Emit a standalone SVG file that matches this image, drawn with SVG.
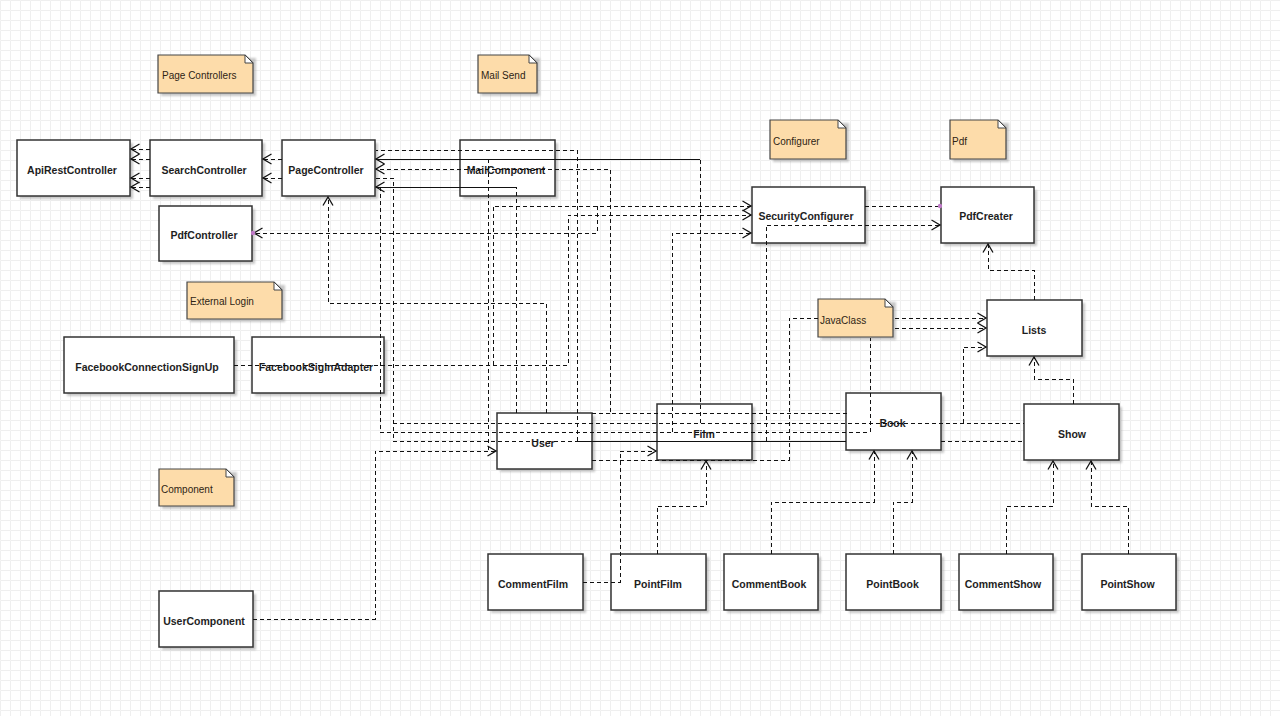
<svg xmlns="http://www.w3.org/2000/svg" width="1280" height="716" viewBox="0 0 1280 716">
<defs>
<pattern id="grid" width="10" height="10" patternUnits="userSpaceOnUse"><path d="M10 0.5H0.5V10" fill="none" stroke="#efefef" stroke-width="1"/></pattern>
<filter id="sh" x="-10%" y="-10%" width="130%" height="130%"><feGaussianBlur stdDeviation="1.2"/></filter>
<marker id="arr" markerUnits="userSpaceOnUse" markerWidth="12" markerHeight="12" refX="9.5" refY="6" orient="auto"><path d="M1,1 L9.5,6 L1,11" fill="none" stroke="#111" stroke-width="1.3"/></marker>
<style>
.bx{fill:#fff;stroke:#333;stroke-width:1.5}
.sd{fill:#9a9a9a;opacity:.55;filter:url(#sh)}
.nt{fill:#fddcaa;stroke:#454545;stroke-width:1.2}
.ear{fill:#fff;stroke:#454545;stroke-width:1}
.lb{font-family:"Liberation Sans",Arial,sans-serif;font-weight:bold;font-size:10.5px;fill:#1e1e1e;text-anchor:middle}
.nl{font-family:"Liberation Sans",Arial,sans-serif;font-size:10px;fill:#2e2414}
.c{fill:none;stroke:#111;stroke-width:1;stroke-dasharray:4 3;shape-rendering:crispEdges}
.s{fill:none;stroke:#111;stroke-width:1;shape-rendering:crispEdges}
.a{marker-end:url(#arr)}
.dot{fill:#c07ac8}
</style>
</defs>
<rect width="1280" height="716" fill="#fff"/>
<rect width="1280" height="716" fill="url(#grid)"/>

<g id="note-page-controllers"><path class="sd" d="M161,58h95v38h-95z"/><path class="nt" d="M158,55H245L253,63V93H158Z"/><path class="ear" d="M245,55V63H253Z"/><text class="nl" x="162" y="78.5">Page Controllers</text></g>
<g id="note-mail-send"><path class="sd" d="M481,58h59v38h-59z"/><path class="nt" d="M478,55H529L537,63V93H478Z"/><path class="ear" d="M529,55V63H537Z"/><text class="nl" x="481" y="78.5">Mail Send</text></g>
<g id="note-configurer"><path class="sd" d="M773,123h76v39h-76z"/><path class="nt" d="M770,120H838L846,128V159H770Z"/><path class="ear" d="M838,120V128H846Z"/><text class="nl" x="773" y="145">Configurer</text></g>
<g id="note-pdf"><path class="sd" d="M953,123h56v39h-56z"/><path class="nt" d="M950,120H998L1006,128V159H950Z"/><path class="ear" d="M998,120V128H1006Z"/><text class="nl" x="952" y="145">Pdf</text></g>
<g id="note-external-login"><path class="sd" d="M190,285h95v37h-95z"/><path class="nt" d="M187,282H274L282,290V319H187Z"/><path class="ear" d="M274,282V290H282Z"/><text class="nl" x="190" y="304.5">External Login</text></g>
<g id="note-javaclass"><path class="sd" d="M821,302h75v38h-75z"/><path class="nt" d="M818,299H885L893,307V337H818Z"/><path class="ear" d="M885,299V307H893Z"/><text class="nl" x="820" y="323.5">JavaClass</text></g>
<g id="note-component"><path class="sd" d="M162,472h75v37h-75z"/><path class="nt" d="M159,469H226L234,477V506H159Z"/><path class="ear" d="M226,469V477H234Z"/><text class="nl" x="161" y="492.5">Component</text></g>

<g id="ApiRestController"><rect class="sd" x="20" y="143" width="113" height="56"/><rect class="bx" x="17" y="140" width="113" height="56"/><text class="lb" x="72" y="173.5">ApiRestController</text></g>
<g id="SearchController"><rect class="sd" x="153" y="143" width="112" height="56"/><rect class="bx" x="150" y="140" width="112" height="56"/><text class="lb" x="204" y="173.5">SearchController</text></g>
<g id="PageController"><rect class="sd" x="285" y="143" width="93" height="56"/><rect class="bx" x="282" y="140" width="93" height="56"/><text class="lb" x="326" y="173.5">PageController</text></g>
<g id="MailComponent"><rect class="sd" x="463" y="143" width="95" height="56"/><rect class="bx" x="460" y="140" width="95" height="56"/><text class="lb" x="506" y="173.5">MailComponent</text></g>
<g id="PdfController"><rect class="sd" x="162" y="209" width="93" height="55"/><rect class="bx" x="159" y="206" width="93" height="55"/><text class="lb" x="204" y="239">PdfController</text></g>
<g id="SecurityConfigurer"><rect class="sd" x="755" y="190" width="113" height="56"/><rect class="bx" x="752" y="187" width="113" height="56"/><text class="lb" x="806" y="220">SecurityConfigurer</text></g>
<g id="PdfCreater"><rect class="sd" x="944" y="190" width="93" height="56"/><rect class="bx" x="941" y="187" width="93" height="56"/><text class="lb" x="986" y="220">PdfCreater</text></g>
<g id="FacebookConnectionSignUp"><rect class="sd" x="67" y="340" width="170" height="56"/><rect class="bx" x="64" y="337" width="170" height="56"/><text class="lb" x="147" y="371">FacebookConnectionSignUp</text></g>
<g id="FacebookSigInAdapter"><rect class="sd" x="255" y="340" width="132" height="56"/><rect class="bx" x="252" y="337" width="132" height="56"/><text class="lb" x="316" y="371">FacebookSigInAdapter</text></g>
<g id="Lists"><rect class="sd" x="990" y="303" width="95" height="56"/><rect class="bx" x="987" y="300" width="95" height="56"/><text class="lb" x="1034" y="333.5">Lists</text></g>
<g id="User"><rect class="sd" x="500" y="416" width="95" height="56"/><rect class="bx" x="497" y="413" width="95" height="56"/><text class="lb" x="543" y="446.5">User</text></g>
<g id="Film"><rect class="sd" x="660" y="407" width="95" height="56"/><rect class="bx" x="657" y="404" width="95" height="56"/><text class="lb" x="704" y="437.5">Film</text></g>
<g id="Book"><rect class="sd" x="849" y="396" width="95" height="57"/><rect class="bx" x="846" y="393" width="95" height="57"/><text class="lb" x="892.5" y="427">Book</text></g>
<g id="Show"><rect class="sd" x="1027" y="407" width="95" height="56"/><rect class="bx" x="1024" y="404" width="95" height="56"/><text class="lb" x="1072" y="437.5">Show</text></g>
<g id="CommentFilm"><rect class="sd" x="491" y="557" width="95" height="56"/><rect class="bx" x="488" y="554" width="95" height="56"/><text class="lb" x="533" y="587.5">CommentFilm</text></g>
<g id="PointFilm"><rect class="sd" x="614" y="557" width="95" height="56"/><rect class="bx" x="611" y="554" width="95" height="56"/><text class="lb" x="658" y="587.5">PointFilm</text></g>
<g id="CommentBook"><rect class="sd" x="727" y="557" width="94" height="56"/><rect class="bx" x="724" y="554" width="94" height="56"/><text class="lb" x="769" y="587.5">CommentBook</text></g>
<g id="PointBook"><rect class="sd" x="849" y="557" width="95" height="56"/><rect class="bx" x="846" y="554" width="95" height="56"/><text class="lb" x="892.5" y="587.5">PointBook</text></g>
<g id="CommentShow"><rect class="sd" x="962" y="557" width="94" height="56"/><rect class="bx" x="959" y="554" width="94" height="56"/><text class="lb" x="1003" y="587.5">CommentShow</text></g>
<g id="PointShow"><rect class="sd" x="1085" y="557" width="94" height="56"/><rect class="bx" x="1082" y="554" width="94" height="56"/><text class="lb" x="1127.5" y="587.5">PointShow</text></g>
<g id="UserComponent"><rect class="sd" x="162" y="594" width="94" height="56"/><rect class="bx" x="159" y="591" width="94" height="56"/><text class="lb" x="204" y="624.5">UserComponent</text></g>

<g id="connectors">
<path class="c a" d="M150,149H131"/>
<path class="c a" d="M150,159H131"/>
<path class="c a" d="M150,178H131"/>
<path class="c a" d="M150,187H131"/>
<path class="c a" d="M282,159H263"/>
<path class="c a" d="M282,178H263"/>
<path class="c" d="M700,423V159"/>
<path class="s a" d="M700,159H376"/>
<path class="c a" d="M847,413H610V169H376"/>
<path class="c" d="M592,413H610"/>
<path class="c" d="M577,441V150H376"/>
<path class="c" d="M516,413V187"/>
<path class="s a" d="M516,187H376"/>
<path class="c" d="M380,187V432H870V338"/>
<path class="c a" d="M672,432V233H751"/>
<path class="c" d="M376,178H393V441H577"/>
<path class="s" d="M577,441H846"/>
<path class="c" d="M393,423H1024"/>
<path class="c a" d="M963,423V347H986"/>
<path class="c" d="M941,441H1024"/>
<path class="c" d="M488,159V451"/>
<path class="c a" d="M253,619H375V451H496"/>
<path class="c a" d="M546,413V303H328V197"/>
<path class="c a" d="M234,365H568V215H751"/>
<path class="c a" d="M493,365V206H751"/>
<path class="c a" d="M597,206V233H254"/>
<path class="c" d="M865,206H940"/>
<path class="c a" d="M766,441V225H940"/>
<path class="c" d="M592,460H789V318H818"/>
<path class="c a" d="M895,318H986"/>
<path class="c a" d="M895,328H986"/>
<path class="c a" d="M1073,404V379H1034V357"/>
<path class="c a" d="M1034,300V270H988V244"/>
<path class="c a" d="M583,582H620V451H656"/>
<path class="c a" d="M657,554V506H706V461"/>
<path class="c a" d="M771,554V502H874V451"/>
<path class="c a" d="M893,554V502H912V451"/>
<path class="c a" d="M1006,554V506H1053V461"/>
<path class="c a" d="M1128,554V506H1091V461"/>
<circle class="dot" cx="253" cy="233" r="2.2"/>
<circle class="dot" cx="940" cy="206" r="2.2"/>
</g>
</svg>
